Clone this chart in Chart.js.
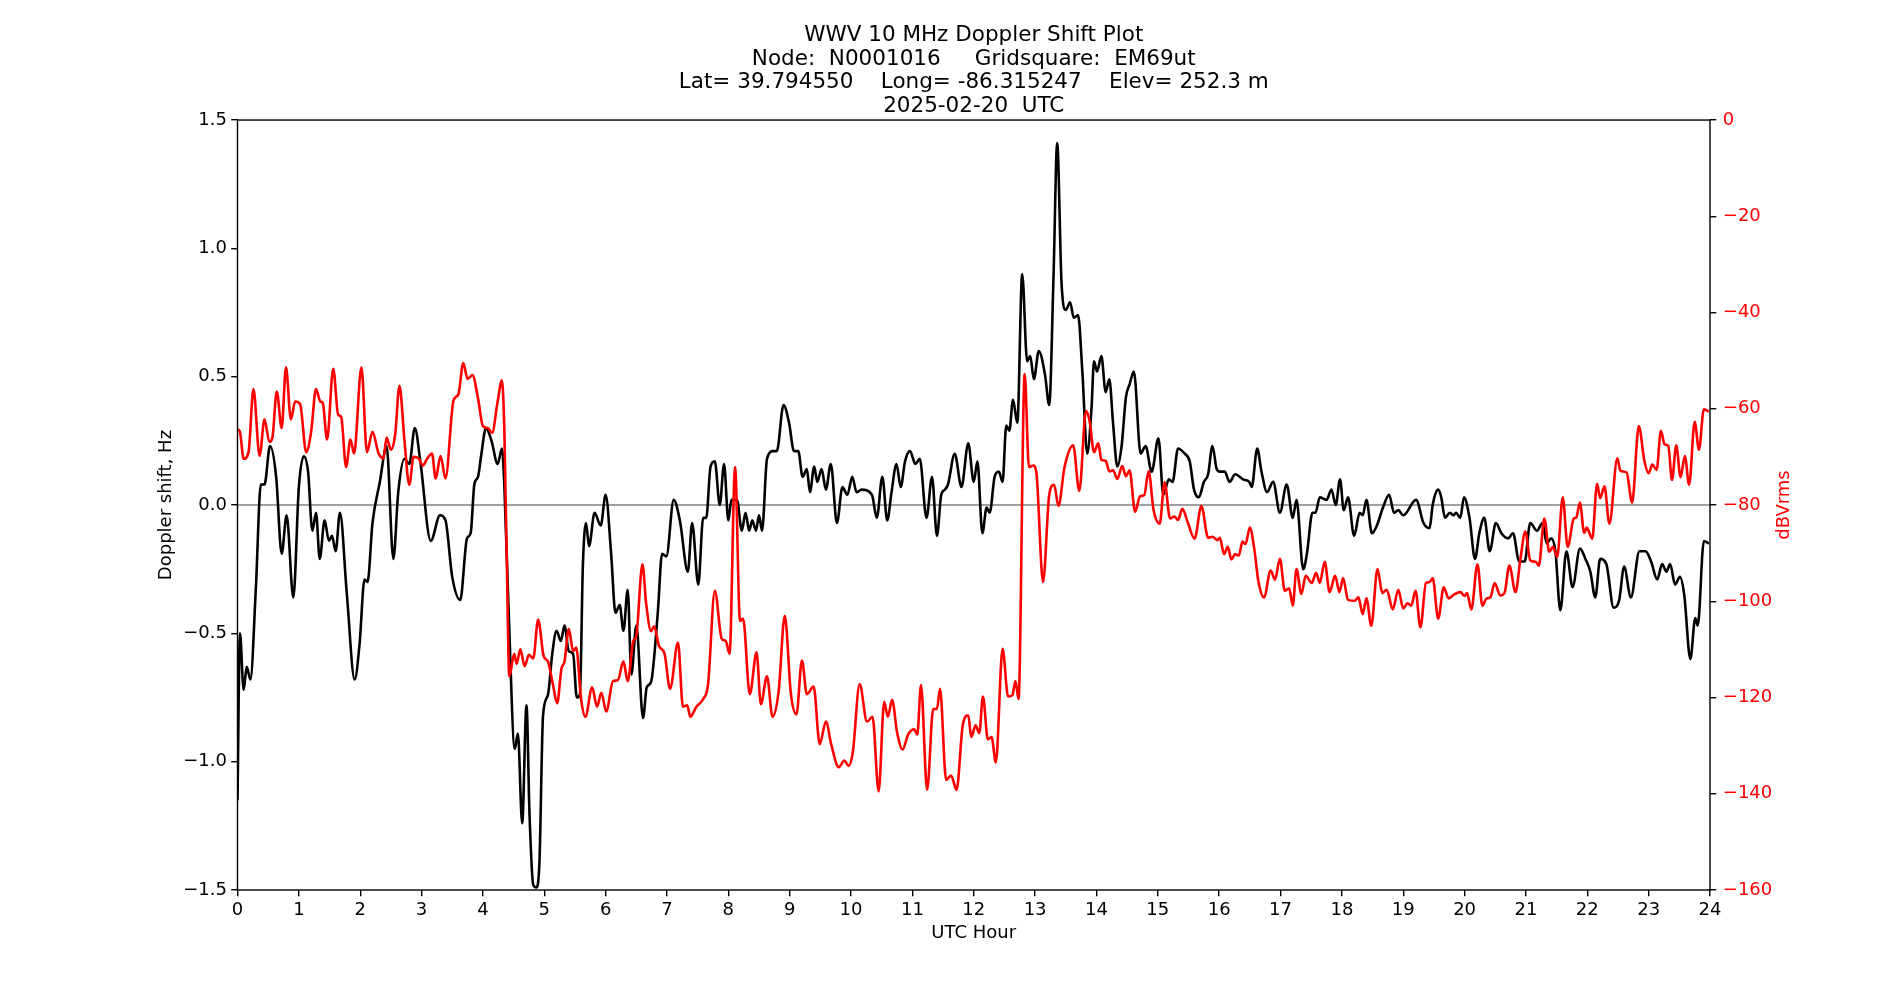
<!DOCTYPE html>
<html>
<head>
<meta charset="utf-8">
<title>WWV 10 MHz Doppler Shift Plot</title>
<script src="https://cdn.jsdelivr.net/npm/chart.js@4/dist/chart.umd.min.js"></script>
<style>
  html, body { margin: 0; padding: 0; background: #fff; }
  #wrap { position: relative; width: 1900px; height: 1000px; }
</style>
</head>
<body>
<div id="wrap"><canvas id="myChart"></canvas></div>
<script>
const titleLines = [
  "WWV 10 MHz Doppler Shift Plot",
  "Node:  N0001016     Gridsquare:  EM69ut",
  "Lat= 39.794550    Long= -86.315247    Elev= 252.3 m",
  "2025-02-20  UTC",
];
const hourTicks = [0, 1, 2, 3, 4, 5, 6, 7, 8, 9, 10, 11, 12, 13, 14, 15, 16, 17, 18, 19, 20, 21, 22, 23, 24];
const dopplerTicks = [-1.5, -1.0, -0.5, 0.0, 0.5, 1.0, 1.5];
const dbTicks = [-160, -140, -120, -100, -80, -60, -40, -20, 0];

// black trace: Doppler shift (Hz) against UTC hour
const blackHours = [
  0.00, 0.04, 0.10, 0.15, 0.21, 0.30, 0.38, 0.44, 0.53, 0.63, 0.72, 0.80, 0.91, 1.00, 1.08, 1.15,
  1.22, 1.28, 1.34, 1.42, 1.49, 1.54, 1.60, 1.67, 1.78, 1.91, 1.99, 2.07, 2.12, 2.20, 2.32, 2.43,
  2.54, 2.62, 2.72, 2.80, 2.89, 2.98, 3.15, 3.30, 3.39, 3.50, 3.63, 3.74, 3.80, 3.86, 3.92, 3.97,
  4.05, 4.14, 4.24, 4.31, 4.35, 4.42, 4.52, 4.57, 4.64, 4.71, 4.76, 4.82, 4.87, 4.92, 4.98, 5.06,
  5.13, 5.20, 5.27, 5.33, 5.40, 5.47, 5.53, 5.58, 5.63, 5.68, 5.73, 5.82, 5.92, 6.00, 6.09, 6.16,
  6.23, 6.29, 6.36, 6.42, 6.50, 6.61, 6.67, 6.74, 6.85, 6.92, 6.99, 7.11, 7.21, 7.34, 7.41, 7.51,
  7.59, 7.64, 7.71, 7.78, 7.86, 7.93, 8.00, 8.05, 8.14, 8.22, 8.28, 8.34, 8.39, 8.45, 8.50, 8.55,
  8.63, 8.73, 8.79, 8.90, 8.99, 9.07, 9.14, 9.21, 9.28, 9.33, 9.40, 9.45, 9.52, 9.59, 9.67, 9.77,
  9.86, 9.94, 10.02, 10.09, 10.17, 10.34, 10.42, 10.51, 10.59, 10.66, 10.74, 10.81, 10.88, 10.96, 11.05, 11.12,
  11.23, 11.32, 11.40, 11.47, 11.53, 11.58, 11.69, 11.80, 11.91, 12.00, 12.06, 12.14, 12.21, 12.26, 12.34, 12.41,
  12.47, 12.53, 12.58, 12.64, 12.71, 12.79, 12.87, 12.92, 12.98, 13.06, 13.16, 13.23, 13.30, 13.36, 13.43, 13.50,
  13.57, 13.63, 13.70, 13.77, 13.85, 13.92, 13.96, 14.01, 14.08, 14.15, 14.21, 14.27, 14.34, 14.41, 14.48, 14.54,
  14.61, 14.72, 14.80, 14.90, 15.01, 15.09, 15.18, 15.24, 15.33, 15.44, 15.52, 15.59, 15.67, 15.75, 15.82, 15.89,
  15.96, 16.01, 16.09, 16.17, 16.26, 16.39, 16.49, 16.53, 16.62, 16.69, 16.78, 16.88, 16.99, 17.10, 17.20, 17.26,
  17.37, 17.43, 17.52, 17.57, 17.64, 17.75, 17.83, 17.90, 17.97, 18.03, 18.10, 18.20, 18.29, 18.34, 18.40, 18.49,
  18.57, 18.67, 18.77, 18.85, 18.92, 19.00, 19.21, 19.33, 19.43, 19.48, 19.57, 19.62, 19.68, 19.76, 19.82, 19.86,
  19.93, 19.99, 20.08, 20.17, 20.24, 20.32, 20.41, 20.51, 20.60, 20.71, 20.79, 20.89, 20.98, 21.07, 21.18, 21.27,
  21.34, 21.41, 21.48, 21.56, 21.66, 21.76, 21.88, 21.97, 22.05, 22.13, 22.21, 22.31, 22.43, 22.52, 22.60, 22.71,
  22.85, 22.95, 23.04, 23.14, 23.22, 23.29, 23.35, 23.43, 23.51, 23.58, 23.68, 23.76, 23.80, 23.90, 23.98,
];
const dopplerHz = [
  -1.15, -0.50, -0.72, -0.63, -0.68, -0.32, 0.08, 0.08, 0.23, 0.11, -0.19, -0.04, -0.36, 0.07, 0.19, 0.13,
  -0.10, -0.03, -0.21, -0.06, -0.14, -0.12, -0.18, -0.03, -0.34, -0.68, -0.54, -0.29, -0.30, -0.07, 0.09, 0.23,
  -0.21, 0.05, 0.18, 0.16, 0.30, 0.17, -0.14, -0.04, -0.06, -0.28, -0.37, -0.13, -0.11, 0.08, 0.11, 0.19,
  0.30, 0.25, 0.16, 0.22, 0.07, -0.42, -0.95, -0.89, -1.24, -0.78, -1.21, -1.48, -1.49, -1.40, -0.82, -0.74,
  -0.58, -0.49, -0.53, -0.47, -0.57, -0.58, -0.75, -0.74, -0.23, -0.07, -0.16, -0.03, -0.08, 0.04, -0.19, -0.42,
  -0.39, -0.49, -0.33, -0.66, -0.47, -0.83, -0.71, -0.69, -0.42, -0.19, -0.20, 0.02, -0.06, -0.26, -0.07, -0.31,
  -0.05, -0.05, 0.15, 0.17, 0.00, 0.16, -0.06, 0.02, 0.02, -0.10, -0.03, -0.10, -0.06, -0.10, -0.04, -0.10,
  0.18, 0.21, 0.21, 0.39, 0.32, 0.21, 0.21, 0.11, 0.14, 0.05, 0.15, 0.09, 0.14, 0.06, 0.16, -0.07,
  0.07, 0.04, 0.11, 0.05, 0.06, 0.04, -0.05, 0.11, -0.06, 0.05, 0.16, 0.07, 0.17, 0.21, 0.16, 0.18,
  -0.05, 0.11, -0.12, 0.04, 0.06, 0.08, 0.20, 0.07, 0.24, 0.09, 0.17, -0.11, -0.01, -0.03, 0.11, 0.13,
  0.09, 0.31, 0.29, 0.41, 0.32, 0.90, 0.56, 0.58, 0.49, 0.60, 0.51, 0.39, 0.89, 1.41, 0.87, 0.76,
  0.79, 0.73, 0.74, 0.52, 0.20, 0.38, 0.56, 0.52, 0.58, 0.44, 0.49, 0.32, 0.15, 0.23, 0.42, 0.47,
  0.52, 0.20, 0.23, 0.13, 0.26, 0.04, 0.10, 0.09, 0.22, 0.20, 0.17, 0.06, 0.03, 0.09, 0.12, 0.23,
  0.14, 0.13, 0.13, 0.09, 0.12, 0.10, 0.09, 0.07, 0.22, 0.13, 0.05, 0.09, -0.03, 0.08, -0.05, 0.02,
  -0.25, -0.19, -0.03, -0.03, 0.03, 0.02, 0.06, 0.00, 0.10, -0.02, 0.03, -0.12, -0.03, -0.04, 0.02, -0.11,
  -0.08, -0.01, 0.04, -0.03, -0.02, -0.04, 0.02, -0.07, -0.09, 0.00, 0.06, 0.03, -0.05, -0.03, -0.04, -0.03,
  -0.05, 0.03, -0.05, -0.21, -0.11, -0.05, -0.18, -0.07, -0.11, -0.13, -0.11, -0.22, -0.22, -0.07, -0.10, -0.07,
  -0.15, -0.13, -0.18, -0.41, -0.18, -0.32, -0.17, -0.21, -0.26, -0.36, -0.21, -0.23, -0.40, -0.37, -0.24, -0.36,
  -0.18, -0.18, -0.22, -0.29, -0.23, -0.26, -0.23, -0.31, -0.28, -0.35, -0.60, -0.44, -0.47, -0.14, -0.15,
];

// red trace: signal level (dBVrms) against UTC hour
const redHours = [
  0.00, 0.04, 0.10, 0.18, 0.26, 0.36, 0.44, 0.52, 0.57, 0.64, 0.72, 0.79, 0.87, 0.94, 1.02, 1.12,
  1.20, 1.28, 1.35, 1.39, 1.46, 1.56, 1.64, 1.69, 1.77, 1.84, 1.90, 2.02, 2.11, 2.20, 2.30, 2.38,
  2.43, 2.50, 2.57, 2.64, 2.72, 2.80, 2.87, 2.95, 3.02, 3.09, 3.17, 3.23, 3.31, 3.39, 3.52, 3.60,
  3.68, 3.75, 3.83, 3.92, 4.00, 4.08, 4.15, 4.24, 4.31, 4.35, 4.39, 4.43, 4.51, 4.55, 4.61, 4.68,
  4.75, 4.82, 4.90, 4.99, 5.06, 5.14, 5.21, 5.28, 5.33, 5.40, 5.47, 5.52, 5.60, 5.67, 5.78, 5.86,
  5.93, 6.01, 6.12, 6.20, 6.29, 6.36, 6.45, 6.50, 6.60, 6.66, 6.74, 6.79, 6.87, 6.96, 7.05, 7.18,
  7.26, 7.33, 7.38, 7.48, 7.59, 7.67, 7.78, 7.89, 7.96, 8.02, 8.11, 8.19, 8.24, 8.35, 8.46, 8.53,
  8.63, 8.72, 8.82, 8.92, 9.02, 9.11, 9.20, 9.28, 9.39, 9.49, 9.59, 9.68, 9.80, 9.89, 9.96, 10.03,
  10.14, 10.26, 10.35, 10.45, 10.54, 10.60, 10.67, 10.75, 10.84, 10.93, 11.03, 11.08, 11.14, 11.24, 11.34, 11.40,
  11.45, 11.55, 11.63, 11.72, 11.82, 11.91, 11.96, 12.03, 12.09, 12.15, 12.23, 12.29, 12.36, 12.47, 12.56, 12.63,
  12.68, 12.73, 12.83, 12.90, 12.97, 13.02, 13.13, 13.23, 13.31, 13.38, 13.48, 13.62, 13.72, 13.83, 13.89, 13.96,
  14.03, 14.08, 14.15, 14.21, 14.27, 14.34, 14.42, 14.48, 14.54, 14.63, 14.71, 14.78, 14.85, 14.93, 15.03, 15.11,
  15.20, 15.27, 15.33, 15.40, 15.49, 15.60, 15.71, 15.82, 15.89, 15.97, 16.01, 16.08, 16.14, 16.20, 16.26, 16.32,
  16.38, 16.43, 16.50, 16.57, 16.64, 16.73, 16.84, 16.91, 16.99, 17.07, 17.14, 17.20, 17.26, 17.34, 17.41, 17.51,
  17.58, 17.64, 17.72, 17.80, 17.89, 17.96, 18.02, 18.10, 18.21, 18.27, 18.34, 18.40, 18.48, 18.58, 18.66, 18.73,
  18.83, 18.92, 19.00, 19.07, 19.13, 19.20, 19.28, 19.37, 19.43, 19.48, 19.57, 19.66, 19.74, 19.84, 19.93, 20.00,
  20.04, 20.11, 20.21, 20.29, 20.36, 20.42, 20.49, 20.58, 20.65, 20.73, 20.83, 20.91, 20.99, 21.07, 21.16, 21.21,
  21.30, 21.38, 21.44, 21.51, 21.60, 21.68, 21.78, 21.82, 21.88, 21.95, 21.99, 22.08, 22.16, 22.21, 22.28, 22.36,
  22.49, 22.54, 22.64, 22.73, 22.84, 22.93, 23.00, 23.06, 23.13, 23.20, 23.26, 23.32, 23.38, 23.45, 23.52, 23.59,
  23.66, 23.75, 23.82, 23.90, 23.98,
];
const levelDbv = [
  -64.3, -64.8, -70.4, -69.0, -55.9, -69.8, -62.2, -66.9, -65.9, -56.4, -64.0, -51.4, -62.2, -58.5, -59.0, -69.0,
  -64.8, -55.9, -58.5, -58.8, -66.4, -51.7, -61.2, -61.7, -72.1, -66.4, -69.3, -51.4, -69.0, -64.8, -69.3, -70.3,
  -66.0, -68.5, -65.3, -55.2, -66.4, -75.8, -70.0, -70.3, -71.8, -70.4, -69.3, -74.5, -69.8, -74.5, -58.3, -57.0,
  -50.5, -53.8, -53.0, -57.8, -63.6, -64.0, -65.0, -58.5, -54.1, -64.8, -92.0, -115.6, -110.9, -113.0, -110.0, -113.5,
  -111.1, -111.9, -103.8, -111.4, -112.5, -117.2, -121.2, -114.0, -112.5, -105.7, -110.4, -109.6, -120.3, -124.0, -117.9, -121.9,
  -119.0, -122.9, -116.6, -116.4, -112.5, -116.6, -108.3, -107.2, -92.3, -100.4, -106.2, -105.2, -109.3, -110.9, -118.2, -108.6,
  -121.9, -121.6, -124.0, -121.9, -120.3, -117.2, -97.8, -107.7, -108.3, -110.9, -72.1, -104.1, -103.6, -119.3, -110.6, -121.4,
  -115.6, -124.0, -118.7, -103.0, -119.3, -123.5, -112.3, -119.3, -117.7, -129.7, -125.0, -129.9, -134.5, -133.1, -134.2, -131.3,
  -117.2, -125.0, -124.0, -139.5, -120.9, -124.0, -120.5, -127.2, -130.8, -127.7, -126.6, -127.7, -117.4, -139.2, -122.4, -122.4,
  -118.2, -137.1, -136.2, -139.2, -125.8, -123.7, -128.2, -125.8, -127.4, -119.8, -128.7, -128.2, -133.5, -109.9, -119.8, -119.5,
  -116.6, -120.3, -52.8, -72.1, -71.8, -73.2, -96.0, -77.9, -75.8, -80.2, -72.1, -67.6, -77.1, -60.4, -62.7, -69.0,
  -67.2, -70.6, -70.8, -73.0, -72.8, -74.6, -71.9, -74.0, -72.8, -81.4, -78.2, -77.9, -73.0, -81.0, -83.9, -75.3,
  -82.8, -82.4, -83.1, -80.8, -83.7, -87.0, -80.2, -86.8, -86.6, -87.3, -86.8, -90.2, -88.7, -91.3, -90.2, -90.5,
  -87.6, -88.1, -84.7, -88.9, -95.9, -99.2, -93.6, -95.5, -91.2, -97.8, -97.3, -100.9, -93.3, -98.5, -94.7, -96.2,
  -94.1, -96.2, -91.8, -98.1, -94.7, -98.1, -95.2, -99.7, -99.9, -99.2, -102.7, -99.4, -105.1, -93.3, -98.3, -97.6,
  -101.7, -97.6, -101.5, -100.4, -100.9, -97.8, -105.4, -96.2, -96.0, -95.2, -103.6, -97.1, -99.4, -98.5, -98.1, -98.9,
  -98.3, -101.7, -92.3, -100.9, -99.4, -99.2, -96.2, -98.8, -98.3, -92.6, -98.1, -91.2, -85.5, -91.5, -91.8, -92.6,
  -82.8, -89.7, -88.7, -90.8, -78.4, -88.7, -82.8, -82.6, -79.5, -85.8, -84.7, -87.0, -75.6, -78.6, -76.1, -83.9,
  -70.3, -72.9, -73.2, -79.5, -63.6, -70.8, -73.4, -71.6, -72.7, -64.6, -67.4, -67.7, -74.8, -67.6, -74.2, -69.8,
  -75.8, -62.7, -68.5, -60.1, -60.6,
];

const fontFamily = "'DejaVu Sans', sans-serif";
const tickFont = { family: fontFamily, size: 18 };

function toPoints(xs, ys) {
  return xs.map((x, i) => ({ x: x, y: ys[i] }));
}

function minusSign(text) {
  return text.replace("-", "\u2212");
}

function fixTicks(values) {
  return (scale) => {
    scale.ticks = values.map((v) => ({ value: v }));
  };
}

function tickMarks() {
  return { drawOnChartArea: false, drawTicks: true, tickLength: 6.3, color: "#000", lineWidth: 1.4 };
}

// frame round the axes box and the right-hand label, as matplotlib draws them
const framePlugin = {
  id: "frame",
  afterDatasetsDraw(chart) {
    const { ctx, chartArea } = chart;
    ctx.save();
    ctx.strokeStyle = "#000";
    ctx.lineWidth = 1.4;
    ctx.strokeRect(chartArea.left, chartArea.top, chartArea.right - chartArea.left, chartArea.bottom - chartArea.top);
    ctx.translate(1784, (chartArea.top + chartArea.bottom) / 2);
    ctx.rotate(-Math.PI / 2);
    ctx.fillStyle = "#ff0000";
    ctx.font = "18px " + fontFamily;
    ctx.textAlign = "center";
    ctx.textBaseline = "middle";
    ctx.fillText("dBVrms", 0, 0);
    ctx.restore();
  },
};

function drawChart() {
  Chart.defaults.color = "#000";
  Chart.defaults.font.family = fontFamily;

  const ctx = document.getElementById("myChart");
  new Chart(ctx, {
    type: "line",
    data: {
      datasets: [
        {
          label: "dBVrms",
          data: toPoints(redHours, levelDbv),
          yAxisID: "y2",
          borderColor: "#ff0000",
          borderWidth: 2.6,
          pointRadius: 0,
          cubicInterpolationMode: "monotone",
          order: 0,
        },
        {
          label: "Doppler shift",
          data: toPoints(blackHours, dopplerHz),
          yAxisID: "y",
          borderColor: "#000000",
          borderWidth: 2.6,
          pointRadius: 0,
          cubicInterpolationMode: "monotone",
          order: 1,
        },
        {
          label: "zero",
          data: [{ x: 0, y: 0 }, { x: 24, y: 0 }],
          yAxisID: "y",
          borderColor: "#808080",
          borderWidth: 1.3,
          pointRadius: 0,
          order: 2,
        },
      ],
    },
    options: {
      responsive: true,
      maintainAspectRatio: false,
      devicePixelRatio: 1,
      animation: false,
      layout: { padding: 0 },
      plugins: {
        legend: { display: false },
        tooltip: { enabled: false },
        title: {
          display: true,
          fullSize: false,
          text: titleLines,
          color: "#000",
          font: { family: fontFamily, size: 21.5, weight: "normal", lineHeight: 1.09 },
          padding: { top: 24, bottom: 2.3 },
        },
      },
      scales: {
        x: {
          type: "linear",
          min: 0,
          max: 24,
          afterBuildTicks: fixTicks(hourTicks),
          afterFit: (scale) => { scale.height = 110; },
          ticks: { font: tickFont, color: "#000", padding: 3, maxRotation: 0, autoSkip: false, callback: (v) => String(v) },
          grid: tickMarks(),
          border: { display: false },
          title: { display: true, text: "UTC Hour", font: tickFont, color: "#000", padding: { top: 0, bottom: 56 } },
        },
        y: {
          position: "left",
          min: -1.5,
          max: 1.5,
          afterBuildTicks: fixTicks(dopplerTicks),
          afterFit: (scale) => { scale.width = 237.5; },
          ticks: { font: tickFont, color: "#000", padding: 4.2, callback: (v) => minusSign(v.toFixed(1)) },
          grid: tickMarks(),
          border: { display: false },
          title: { display: true, text: "Doppler shift, Hz", font: tickFont, color: "#000", padding: { top: 156, bottom: 0 } },
        },
        y2: {
          position: "right",
          min: -160,
          max: 0,
          afterBuildTicks: fixTicks(dbTicks),
          afterFit: (scale) => { scale.width = 190; },
          ticks: { font: tickFont, color: "#ff0000", padding: 6.5, callback: (v) => minusSign(String(v)) },
          grid: tickMarks(),
          border: { display: false },
        },
      },
    },
    plugins: [framePlugin],
  });
}

drawChart();
</script>
</body>
</html>
